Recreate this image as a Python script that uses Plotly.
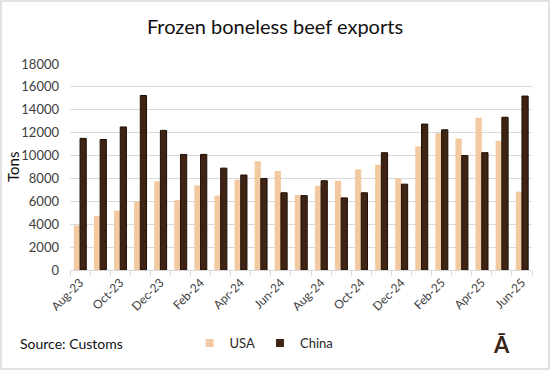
import plotly.graph_objects as go

months = ["Aug-23","Sep-23","Oct-23","Nov-23","Dec-23","Jan-24","Feb-24","Mar-24","Apr-24","May-24",
          "Jun-24","Jul-24","Aug-24","Sep-24","Oct-24","Nov-24","Dec-24","Jan-25","Feb-25","Mar-25",
          "Apr-25","May-25","Jun-25"]
usa = [3900, 4700, 5200, 6000, 7750, 6100, 7400, 6500, 7900, 9500,
       8650, 6550, 7350, 7800, 8800, 9200, 8000, 10800, 11950, 11500,
       13300, 11300, 6850]
china = [11500, 11400, 12500, 15250, 12200, 10100, 10100, 8900, 8300, 8000,
         6750, 6500, 7800, 6300, 6750, 10250, 7500, 12750, 12250, 10000,
         10250, 13350, 15200]
tick_labels = [m if i % 2 == 0 else "" for i, m in enumerate(months)]
y_ticks = list(range(0, 18001, 2000))

USA_C = "#F2C9A0"
CHINA_C = "#3F2414"
FONT = "Lato"
fig = go.Figure()
fig.add_trace(go.Bar(x=months, y=usa, name="USA", showlegend=False, legendgroup="u",
                     marker=dict(color=USA_C, line=dict(width=0))))
fig.add_trace(go.Bar(x=months, y=china, name="China", showlegend=False, legendgroup="c",
                     marker=dict(color=CHINA_C, line=dict(color="#1E0F06", width=1))))
fig.add_trace(go.Scatter(x=[None], y=[None], mode="markers", name="USA", legendgroup="u",
                         marker=dict(symbol="square", size=8, color=USA_C)))
fig.add_trace(go.Scatter(x=[None], y=[None], mode="markers", name="China", legendgroup="c",
                         marker=dict(symbol="square", size=8, color=CHINA_C)))

fig.update_layout(
    width=550, height=371,
    margin=dict(l=70, r=18, t=64, b=101),
    paper_bgcolor="white", plot_bgcolor="white",
    barmode="group", bargap=0.38, bargroupgap=0,
    font=dict(family=FONT, color="#262626", size=12),
    title=dict(text="Frozen boneless beef exports", x=0.5, xanchor="center",
               y=1 - 27/371, yanchor="middle", font=dict(size=20, color="#111111", family=FONT)),
    showlegend=True,
    legend=dict(orientation="h", x=0.42, y=-0.355, xanchor="center", yanchor="middle",
                font=dict(size=13, color="#262626"), itemwidth=30, traceorder="normal",
                bgcolor="rgba(0,0,0,0)"),
    xaxis=dict(type="category", tickmode="array", tickvals=months, ticktext=tick_labels,
               tickangle=-45, showgrid=False, showline=True, linecolor="#d9d9d9", linewidth=1,
               ticks="outside", tickson="boundaries", ticklen=5, tickcolor="#d9d9d9",
               automargin=False, tickfont=dict(size=12, color="#404040")),
    yaxis=dict(range=[0, 18000], tickvals=y_ticks, tickformat="d", showgrid=True,
               gridcolor="#d9d9d9", gridwidth=1, automargin=False, ticklabelstandoff=10,
               zeroline=False, showline=False, tickfont=dict(size=13, color="#404040")),
)
fig.add_annotation(text="Tons", xref="paper", yref="paper", x=(13-70)/462, y=(270-167)/206,
                   xanchor="center", yanchor="middle", textangle=-90, showarrow=False,
                   font=dict(size=15, color="#111111", family=FONT))
fig.add_annotation(text="Source: Customs", xref="paper", yref="paper", x=-52/462, y=-0.355,
                   xanchor="left", yanchor="middle", showarrow=False,
                   font=dict(size=14, color="#111111", family=FONT))
fig.add_annotation(text="<b>Ā</b>", xref="paper", yref="paper", x=(512-70)/462, y=-0.36,
                   xanchor="right", yanchor="middle", showarrow=False,
                   font=dict(size=22, color="#3A2412", family=FONT))
fig.add_shape(type="rect", xref="paper", yref="paper", x0=-69/462, x1=1+17/462,
              y0=-99/206, y1=1+63/206, line=dict(color="#d9d9d9", width=1.5))
fig.write_html("out.html", config={"displayModeBar": False},
               post_script="document.body.style.margin='0';document.body.style.overflow='hidden';")
